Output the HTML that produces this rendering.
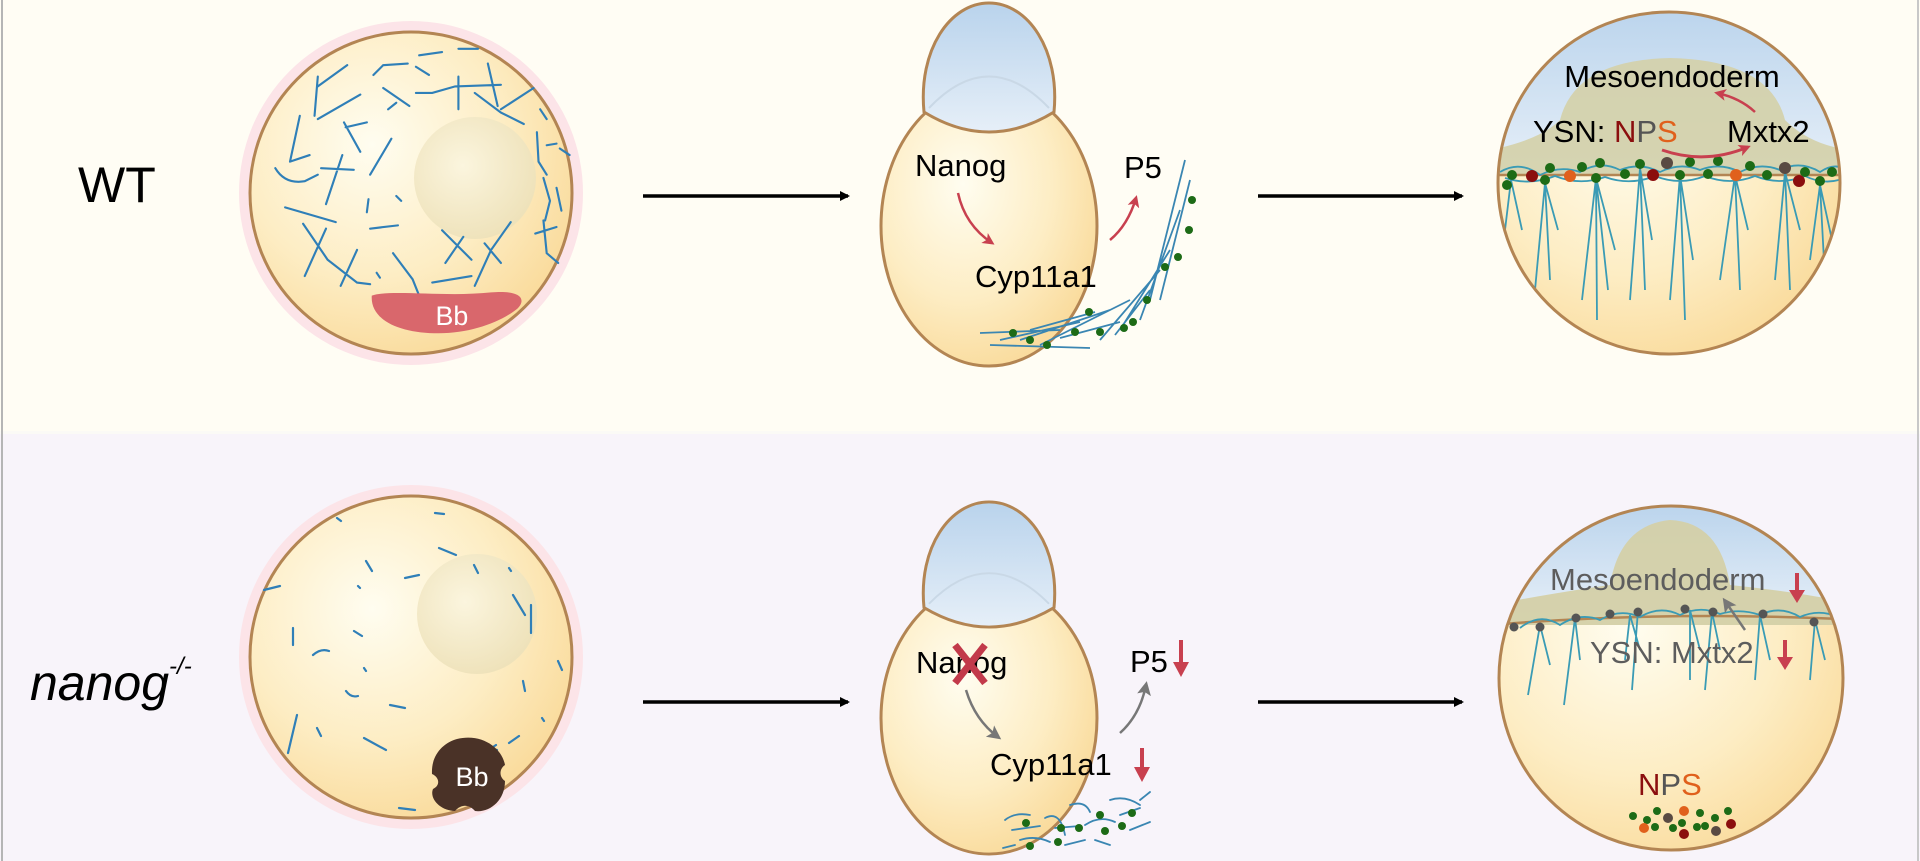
<!DOCTYPE html>
<html><head><meta charset="utf-8"><style>
html,body{margin:0;padding:0;width:1920px;height:861px;overflow:hidden;background:#fffdf4}
svg{display:block}
text{font-family:"Liberation Sans",Arial,sans-serif}
</style></head><body>
<svg width="1920" height="861" viewBox="0 0 1920 861" xmlns="http://www.w3.org/2000/svg">
<defs>
<radialGradient id="yolk" cx="0.38" cy="0.35" r="0.75">
<stop offset="0" stop-color="#fffdf0"/><stop offset="0.55" stop-color="#fdedc4"/><stop offset="1" stop-color="#f9d793"/>
</radialGradient>
<radialGradient id="nuc" cx="0.4" cy="0.4" r="0.7">
<stop offset="0" stop-color="#fbf5de"/><stop offset="1" stop-color="#ede0b6"/>
</radialGradient>
<linearGradient id="cap" x1="0" y1="0" x2="0" y2="1">
<stop offset="0" stop-color="#b9d3ec"/><stop offset="1" stop-color="#e6eff8"/>
</linearGradient>
<marker id="ab" markerWidth="10" markerHeight="10" refX="8" refY="5" orient="auto" markerUnits="userSpaceOnUse" viewBox="0 0 10 10"><path d="M0,0 L10,5 L0,10 z" fill="#000"/></marker>
<marker id="ar" markerWidth="12" markerHeight="12" refX="9" refY="6" orient="auto" markerUnits="userSpaceOnUse"><path d="M0,0 L12,6 L0,12 L3,6 z" fill="#c8404f"/></marker>
<marker id="ag" markerWidth="14" markerHeight="14" refX="10" refY="7" orient="auto" markerUnits="userSpaceOnUse"><path d="M0,0 L14,7 L0,14 L3,7 z" fill="#777"/></marker>
</defs>
<rect x="0" y="0" width="1920" height="432" fill="#fffdf4"/>
<rect x="0" y="434" width="1920" height="427" fill="#f8f4fa"/>
<rect x="0" y="431" width="1920" height="3" fill="#fbfaf6"/>
<rect x="1" y="0" width="2" height="861" fill="#b5b5b5"/>
<rect x="1917" y="0" width="2" height="861" fill="#c8c8c8"/>

<text x="78" y="202" font-size="50">WT</text>
<text x="30" y="700" font-size="50" font-style="italic">nanog<tspan font-size="24" dy="-26">-/-</tspan></text>

<!-- Egg WT -->
<circle cx="411" cy="193" r="172" fill="#fce4e8"/>
<circle cx="411" cy="193" r="161" fill="url(#yolk)" stroke="#b38553" stroke-width="3"/>
<circle cx="475" cy="178" r="61" fill="url(#nuc)"/>
<g transform="translate(411,193) scale(0.327) translate(-585,-516)">
<g stroke="#2f7fb8" stroke-width="6.5" fill="none" stroke-linecap="round">
<path d="M290,280 L300,160 M300,190 L390,125 M300,290 L430,215 M380,300 L430,390 M385,315 L450,300 M245,280 L215,420 M215,420 L275,400 M470,155 L500,125 L575,120 M500,195 L580,250 M515,260 L540,240 M610,95 L680,85 M600,130 L640,155 M730,75 L790,75 M600,210 L650,210 L720,190 L860,185 M730,160 L730,260 M820,120 L850,250 M780,210 L860,270 L930,305 M860,260 L960,195 M980,260 L1000,290 M970,330 L975,420 L1000,460 M1000,370 L1030,365 M1040,380 L1070,400 M990,470 L1010,540 L995,600 M1030,500 L1045,570 M170,440 Q200,490 260,480 L300,460 M310,440 L410,445 M375,400 L325,550 M525,350 L460,460 M455,535 L450,575 M540,525 L555,540 M200,560 L355,605 M460,625 L545,615 M255,610 L330,720 L420,790 L460,795 M325,625 L260,770 M420,690 L370,800 M480,760 L490,775 M530,700 L590,780 L610,830 M650,790 L770,770 M680,630 L770,720 M690,730 L745,650 M810,670 L860,730 M780,800 L830,690 L890,605 M965,640 L1030,620 M990,600 L1000,700 L1035,730"/>
</g>
<g transform="translate(70,0)">
<path d="M395,830 C450,810 620,835 760,820 C850,812 870,840 840,870 C790,910 700,945 600,945 C480,945 390,905 395,830 z" fill="#d9676c"/>
<text x="640" y="920" font-size="82" fill="#fff" text-anchor="middle">Bb</text>
</g>
</g>

<!-- Egg nanog -->
<circle cx="411" cy="657" r="172" fill="#fce4e8"/>
<circle cx="411" cy="657" r="161" fill="url(#yolk)" stroke="#b38553" stroke-width="3"/>
<circle cx="477" cy="614" r="60" fill="url(#nuc)"/>
<g transform="translate(-34,-12)">
<g stroke="#2f7fb8" stroke-width="2.2" fill="none" stroke-linecap="round">
<path d="M371,530 L375,533 M469,525 L478,526 M473,560 L490,567 M400,573 L406,583 M508,577 L512,585 M543,580 L545,583 M439,590 L453,587 M392,598 L394,600 M298,602 L314,598 M547,607 L559,627 M565,617 L565,645 M327,640 L327,657 M388,643 L396,648 M347,667 Q355,660 363,663 M398,680 L400,683 M380,703 Q385,710 392,708 M557,693 L559,703 M592,673 L596,682 M424,717 L439,720 M331,727 L322,765 M351,740 L355,748 M398,750 L420,762 M506,757 L531,762 M518,765 L530,757 M543,755 L553,748 M576,730 L578,733 M433,820 L449,822"/>
</g>
</g>
<g transform="translate(-3,3)">
<path d="M460,736 C485,730 505,745 508,762 C502,766 502,774 508,778 C508,798 492,810 478,808 C472,801 464,801 458,808 C444,808 432,796 436,786 C444,782 442,774 435,771 C434,752 446,740 460,736 z" fill="#4a3227"/>
<text x="475" y="783" font-size="27" fill="#fff" text-anchor="middle">Bb</text>
</g>

<!-- arrows -->
<line x1="643" y1="196" x2="848" y2="196" stroke="#000" stroke-width="3.5" marker-end="url(#ab)"/>
<line x1="1258" y1="196" x2="1462" y2="196" stroke="#000" stroke-width="3.5" marker-end="url(#ab)"/>
<line x1="643" y1="702" x2="848" y2="702" stroke="#000" stroke-width="3.5" marker-end="url(#ab)"/>
<line x1="1258" y1="702" x2="1462" y2="702" stroke="#000" stroke-width="3.5" marker-end="url(#ab)"/>

<!-- Embryo 2 WT -->
<g>
<ellipse cx="989" cy="226" rx="108" ry="140" fill="url(#yolk)" stroke="#b38553" stroke-width="3"/>
<path d="M924,112 C918,50 950,3 989,3 C1028,3 1060,50 1054,112 Q989,152 924,112 z" fill="url(#cap)" stroke="#b38553" stroke-width="3"/>
<path d="M929,108 Q989,45 1049,108" fill="none" stroke="#c9d8e6" stroke-width="2"/>
</g>
<text x="915" y="176" font-size="31">Nanog</text>
<text x="975" y="287" font-size="31">Cyp11a1</text>
<text x="1124" y="178" font-size="31">P5</text>
<path d="M958,193 Q965,225 992,243" fill="none" stroke="#c8404f" stroke-width="2.5" marker-end="url(#ar)"/>
<path d="M1110,240 Q1128,225 1136,198" fill="none" stroke="#c8404f" stroke-width="2.5" marker-end="url(#ar)"/>
<g stroke="#3a86b2" stroke-width="1.8" fill="none">
<path d="M980,333 L1060,330 M990,345 L1090,348 M1000,340 L1080,322 M1020,340 L1110,310 M1040,345 L1130,300 M1100,340 L1160,270 M1115,335 L1150,290 M1120,330 L1170,250 M1140,320 L1180,210 M1160,300 L1190,180 M1150,300 L1185,160 M1060,338 L1120,322 M1030,330 L1095,312"/>
</g>
<g fill="#1d6b16">
<circle cx="1013" cy="333" r="4"/><circle cx="1030" cy="340" r="4"/><circle cx="1047" cy="345" r="4"/><circle cx="1075" cy="332" r="4"/><circle cx="1100" cy="332" r="4"/><circle cx="1124" cy="328" r="4"/><circle cx="1133" cy="322" r="4"/><circle cx="1147" cy="300" r="4"/><circle cx="1165" cy="267" r="4"/><circle cx="1178" cy="257" r="4"/><circle cx="1189" cy="230" r="4"/><circle cx="1192" cy="200" r="4"/><circle cx="1089" cy="312" r="4"/>
</g>

<!-- Embryo 2 nanog -->
<g transform="translate(0,499) scale(1,0.97)">
<ellipse cx="989" cy="226" rx="108" ry="140" fill="url(#yolk)" stroke="#b38553" stroke-width="3"/>
<path d="M924,112 C918,50 950,3 989,3 C1028,3 1060,50 1054,112 Q989,152 924,112 z" fill="url(#cap)" stroke="#b38553" stroke-width="3"/>
<path d="M929,108 Q989,45 1049,108" fill="none" stroke="#c9d8e6" stroke-width="2"/>
</g>
<text x="916" y="673" font-size="31">Nanog</text>
<path d="M955,645 L985,683 M985,645 L955,683" stroke="#c23a4a" stroke-width="7"/>
<text x="990" y="775" font-size="31">Cyp11a1</text>
<text x="1130" y="672" font-size="31">P5</text>
<path d="M966,690 Q975,720 998,737" fill="none" stroke="#777" stroke-width="2.5" marker-end="url(#ag)"/>
<path d="M1120,733 Q1140,715 1146,685" fill="none" stroke="#777" stroke-width="2.5" marker-end="url(#ag)"/>
<path d="M1181,640 L1181,665" stroke="#c8404f" stroke-width="4"/><path d="M1173,662 L1189,662 L1181,677 z" fill="#c8404f"/>
<path d="M1142,748 L1142,770" stroke="#c8404f" stroke-width="4"/><path d="M1134,767 L1150,767 L1142,782 z" fill="#c8404f"/>
<g stroke="#3a86b2" stroke-width="1.8" fill="none" stroke-linecap="round">
<path d="M1005,820 Q1015,812 1030,815 M1012,830 L1040,826 M1020,840 Q1035,835 1050,842 M1045,818 Q1060,810 1065,835 M1055,828 L1080,826 M1070,805 Q1085,800 1090,812 M1085,825 Q1100,815 1115,822 M1095,840 L1110,845 M1110,800 Q1125,795 1140,805 M1120,815 L1140,808 M1140,800 L1150,792 M1003,848 L1015,845 M1065,845 L1085,840 M1130,830 L1150,822"/>
</g>
<g fill="#1d6b16">
<circle cx="1026" cy="823" r="4"/><circle cx="1061" cy="828" r="4"/><circle cx="1079" cy="828" r="4"/><circle cx="1100" cy="815" r="4"/><circle cx="1105" cy="831" r="4"/><circle cx="1122" cy="826" r="4"/><circle cx="1132" cy="813" r="4"/><circle cx="1030" cy="846" r="4"/><circle cx="1058" cy="842" r="4"/>
</g>

<!-- Embryo 3 WT -->
<clipPath id="c3"><circle cx="1669" cy="183" r="171"/></clipPath>
<g clip-path="url(#c3)">
<rect x="1490" y="0" width="360" height="360" fill="url(#yolk)"/>
<rect x="1490" y="0" width="360" height="175" fill="url(#cap)"/>
<path d="M1490,175 L1490,150 Q1540,140 1560,120 Q1575,60 1670,58 Q1770,60 1785,120 Q1810,145 1850,150 L1850,175 z" fill="#d4d0a8" opacity="0.9"/>
<line x1="1490" y1="175" x2="1850" y2="175" stroke="#b38553" stroke-width="2.5"/>
<g stroke="#3a9bb5" stroke-width="1.8" fill="none">
<path d="M1511,180 L1505,230 M1511,180 L1522,230 M1545,183 L1535,290 M1545,183 L1550,280 M1545,183 L1558,230 M1596,178 L1582,300 M1596,178 L1597,320 M1596,178 L1608,290 M1596,178 L1615,250 M1640,168 L1630,300 M1640,168 L1645,290 M1640,168 L1652,240 M1680,175 L1670,300 M1680,175 L1685,320 M1680,175 L1693,260 M1735,175 L1720,280 M1735,175 L1740,290 M1735,175 L1748,230 M1785,172 L1775,280 M1785,172 L1790,290 M1785,172 L1800,230 M1820,185 L1810,260 M1820,185 L1825,280 M1820,185 L1832,240"/>
<path d="M1500,172 Q1520,160 1540,175 Q1560,165 1580,172 Q1600,160 1620,170 Q1640,162 1660,172 Q1680,162 1700,170 Q1720,162 1740,172 Q1760,162 1780,170 Q1800,160 1820,172 Q1835,162 1845,170 M1505,178 Q1530,186 1555,176 Q1580,186 1605,177 Q1630,186 1655,176 Q1680,186 1705,176 Q1730,186 1755,176 Q1780,186 1805,176 Q1825,186 1845,178"/>
</g>
</g>
<circle cx="1669" cy="183" r="171" fill="none" stroke="#b38553" stroke-width="3"/>
<g fill="#1d6b16">
<circle cx="1512" cy="175" r="5"/><circle cx="1507" cy="185" r="5"/><circle cx="1545" cy="180" r="5"/><circle cx="1550" cy="168" r="5"/><circle cx="1582" cy="167" r="5"/><circle cx="1596" cy="178" r="5"/><circle cx="1600" cy="163" r="5"/><circle cx="1625" cy="174" r="5"/><circle cx="1640" cy="164" r="5"/><circle cx="1690" cy="162" r="5"/><circle cx="1680" cy="175" r="5"/><circle cx="1708" cy="174" r="5"/><circle cx="1718" cy="161" r="5"/><circle cx="1750" cy="166" r="5"/><circle cx="1767" cy="175" r="5"/><circle cx="1805" cy="172" r="5"/><circle cx="1820" cy="181" r="5"/><circle cx="1832" cy="172" r="5"/>
</g>
<circle cx="1532" cy="176" r="6" fill="#8b0e0e"/><circle cx="1570" cy="176" r="6" fill="#e0601c"/><circle cx="1653" cy="175" r="6" fill="#8b0e0e"/><circle cx="1736" cy="175" r="6" fill="#e0601c"/><circle cx="1799" cy="181" r="6" fill="#8b0e0e"/>
<circle cx="1667" cy="163" r="6" fill="#594a42"/><circle cx="1785" cy="168" r="6" fill="#594a42"/>
<text x="1672" y="87" font-size="31" text-anchor="middle">Mesoendoderm</text>
<text x="1533" y="142" font-size="31">YSN: <tspan fill="#8b0e0e">N</tspan><tspan fill="#555">P</tspan><tspan fill="#e0601c">S</tspan></text>
<text x="1727" y="142" font-size="31">Mxtx2</text>
<path d="M1755,112 Q1740,98 1717,93" fill="none" stroke="#c8404f" stroke-width="2.5" marker-end="url(#ar)"/>
<path d="M1662,150 Q1705,165 1748,147" fill="none" stroke="#c8404f" stroke-width="3" marker-end="url(#ar)"/>

<!-- Embryo 3 nanog -->
<clipPath id="c4"><circle cx="1671" cy="678" r="172"/></clipPath>
<g clip-path="url(#c4)">
<rect x="1490" y="500" width="370" height="361" fill="url(#yolk)"/>
<rect x="1490" y="500" width="370" height="120" fill="url(#cap)"/>
<path d="M1490,625 L1490,605 Q1560,592 1610,585 Q1620,525 1670,520 Q1720,522 1730,585 Q1800,592 1860,605 L1860,625 z" fill="#d4d0a8" opacity="0.95"/>
<path d="M1490,625 Q1670,610 1860,620" stroke="#b38553" stroke-width="2.5" fill="none"/>
<g stroke="#3a9bb5" stroke-width="1.8" fill="none">
<path d="M1540,625 L1528,695 M1540,625 L1550,665 M1575,618 L1564,705 M1575,618 L1580,660 M1630,615 L1625,660 M1630,615 L1640,650 M1638,610 L1632,690 M1690,610 L1690,680 M1690,610 L1700,650 M1712,612 L1705,690 M1712,612 L1720,650 M1760,615 L1755,680 M1760,615 L1770,660 M1815,620 L1810,680 M1815,620 L1825,660 M1520,628 Q1540,612 1560,625 Q1580,612 1600,620 Q1620,608 1640,617 Q1660,605 1680,615 Q1700,605 1720,614 Q1740,608 1760,615 Q1780,605 1800,617 Q1820,608 1840,618"/>
</g>
</g>
<circle cx="1671" cy="678" r="172" fill="none" stroke="#b38553" stroke-width="3"/>
<g fill="#555">
<circle cx="1514" cy="627" r="4.5"/><circle cx="1540" cy="627" r="4.5"/><circle cx="1576" cy="618" r="4.5"/><circle cx="1610" cy="614" r="4.5"/><circle cx="1638" cy="612" r="4.5"/><circle cx="1685" cy="609" r="4.5"/><circle cx="1713" cy="612" r="4.5"/><circle cx="1763" cy="614" r="4.5"/><circle cx="1814" cy="622" r="4.5"/>
</g>
<path d="M1745,630 L1725,601" stroke="#777" stroke-width="2.5" marker-end="url(#ag)"/>
<text x="1550" y="590" font-size="31" fill="#5d5d5d">Mesoendoderm</text>
<path d="M1797,573 L1797,592" stroke="#c8404f" stroke-width="4"/><path d="M1789,590 L1805,590 L1797,603 z" fill="#c8404f"/>
<text x="1590" y="663" font-size="31" fill="#5d5d5d">YSN:  Mxtx2</text>
<path d="M1785,640 L1785,659" stroke="#c8404f" stroke-width="4"/><path d="M1777,657 L1793,657 L1785,670 z" fill="#c8404f"/>
<text x="1638" y="795" font-size="31"><tspan fill="#8b0e0e">N</tspan><tspan fill="#555">P</tspan><tspan fill="#e0601c">S</tspan></text>
<g>
<circle cx="1633" cy="816" r="4" fill="#1d6b16"/><circle cx="1647" cy="820" r="4" fill="#1d6b16"/><circle cx="1657" cy="811" r="4" fill="#1d6b16"/><circle cx="1668" cy="818" r="5" fill="#594a42"/><circle cx="1684" cy="811" r="5" fill="#e0601c"/><circle cx="1700" cy="813" r="4" fill="#1d6b16"/><circle cx="1715" cy="818" r="4" fill="#1d6b16"/><circle cx="1728" cy="811" r="4" fill="#1d6b16"/><circle cx="1644" cy="828" r="5" fill="#e0601c"/><circle cx="1655" cy="827" r="4" fill="#1d6b16"/><circle cx="1673" cy="828" r="4" fill="#1d6b16"/><circle cx="1682" cy="823" r="4" fill="#1d6b16"/><circle cx="1684" cy="834" r="5" fill="#8b0e0e"/><circle cx="1697" cy="827" r="4" fill="#1d6b16"/><circle cx="1705" cy="826" r="4" fill="#1d6b16"/><circle cx="1716" cy="831" r="5" fill="#594a42"/><circle cx="1731" cy="824" r="5" fill="#8b0e0e"/>
</g>
</svg>
</body></html>
